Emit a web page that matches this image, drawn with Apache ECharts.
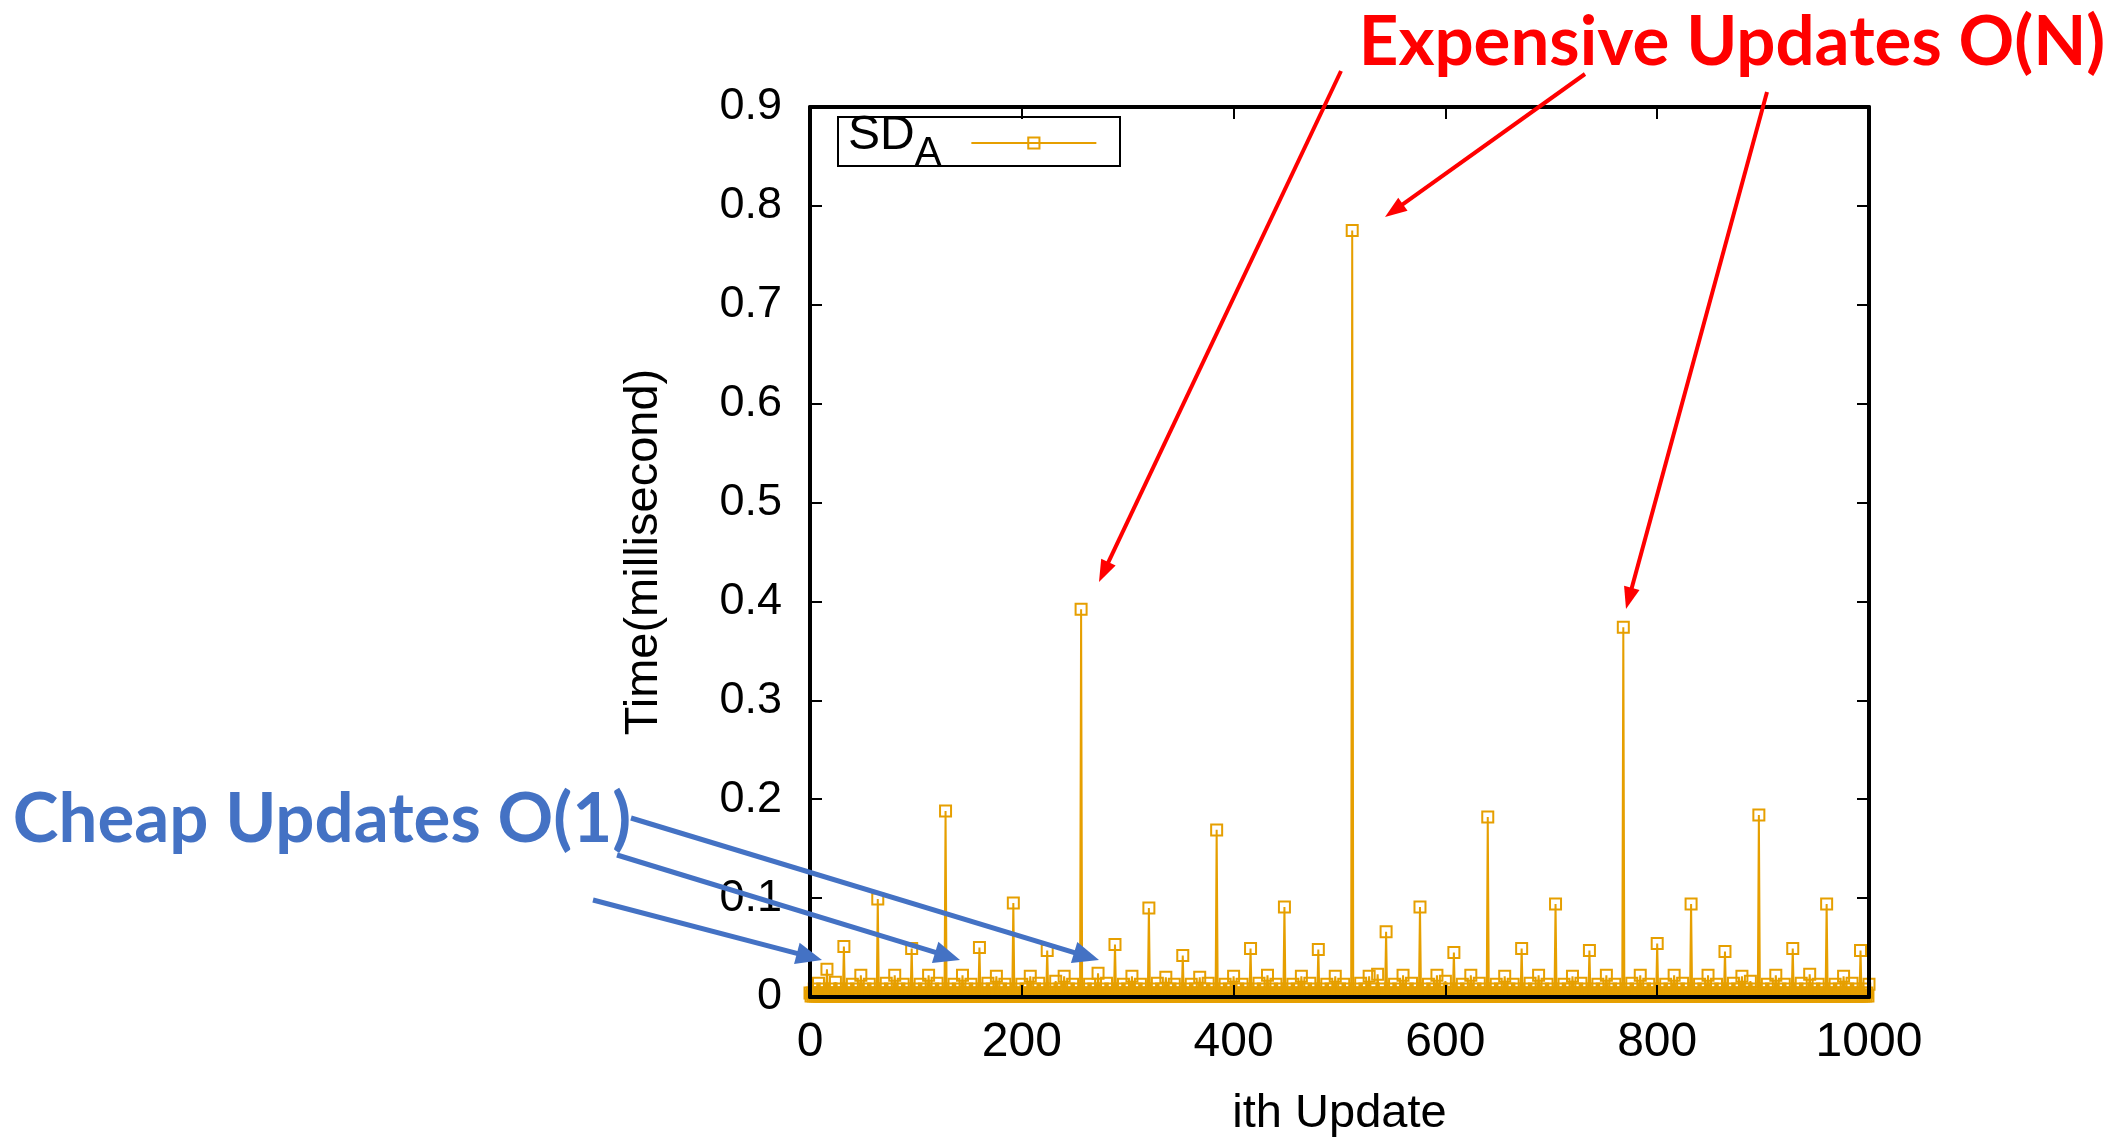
<!DOCTYPE html>
<html>
<head>
<meta charset="utf-8">
<title>SD_A update time</title>
<script src="https://cdn.jsdelivr.net/npm/echarts/dist/echarts.min.js"></script>
<style>
  html, body { margin: 0; padding: 0; background: #fff; }
  #chart { width: 2114px; height: 1144px; }
</style>
</head>
<body>
<div id="chart"></div>
<script>
// time (ms) of the i-th update, i = 0..1000
// one row = 16 updates; first value of each row is the 16k-th update
var updateTime = [
  0.004,0.001,0.004,0.001,0.008,0.001,0.004,0.001,0.014,0.001,0.004,0.001,0.008,0.001,0.004,0.001,
  0.028,0.001,0.004,0.001,0.008,0.001,0.004,0.001,0.015,0.001,0.004,0.001,0.008,0.001,0.004,0.001,
  0.051,0.001,0.004,0.001,0.008,0.001,0.004,0.001,0.013,0.001,0.004,0.001,0.008,0.001,0.004,0.001,
  0.022,0.001,0.004,0.001,0.008,0.001,0.004,0.001,0.013,0.001,0.004,0.001,0.008,0.001,0.004,0.001,
  0.099,0.001,0.004,0.001,0.008,0.001,0.004,0.001,0.014,0.001,0.004,0.001,0.008,0.001,0.004,0.001,
  0.022,0.001,0.004,0.001,0.008,0.001,0.004,0.001,0.013,0.001,0.004,0.001,0.008,0.001,0.004,0.001,
  0.049,0.001,0.004,0.001,0.008,0.001,0.004,0.001,0.013,0.001,0.004,0.001,0.008,0.001,0.004,0.001,
  0.022,0.001,0.004,0.001,0.008,0.001,0.004,0.001,0.014,0.001,0.004,0.001,0.008,0.001,0.004,0.001,
  0.188,0.001,0.004,0.001,0.008,0.001,0.004,0.001,0.013,0.001,0.004,0.001,0.008,0.001,0.004,0.001,
  0.022,0.001,0.004,0.001,0.008,0.001,0.004,0.001,0.013,0.001,0.004,0.001,0.008,0.001,0.004,0.001,
  0.050,0.001,0.004,0.001,0.008,0.001,0.004,0.001,0.014,0.001,0.004,0.001,0.008,0.001,0.004,0.001,
  0.021,0.001,0.004,0.001,0.008,0.001,0.004,0.001,0.013,0.001,0.004,0.001,0.008,0.001,0.004,0.001,
  0.095,0.001,0.004,0.001,0.008,0.001,0.004,0.001,0.013,0.001,0.004,0.001,0.008,0.001,0.004,0.001,
  0.021,0.001,0.004,0.001,0.008,0.001,0.004,0.001,0.014,0.001,0.004,0.001,0.008,0.001,0.004,0.001,
  0.047,0.001,0.004,0.001,0.008,0.001,0.004,0.001,0.016,0.001,0.004,0.001,0.008,0.001,0.004,0.001,
  0.021,0.001,0.004,0.001,0.008,0.001,0.004,0.001,0.013,0.001,0.004,0.001,0.008,0.001,0.004,0.001,
  0.392,0.001,0.004,0.001,0.008,0.001,0.004,0.001,0.013,0.001,0.004,0.001,0.008,0.001,0.004,0.001,
  0.024,0.001,0.004,0.001,0.008,0.001,0.004,0.001,0.014,0.001,0.004,0.001,0.008,0.001,0.004,0.001,
  0.053,0.001,0.004,0.001,0.008,0.001,0.004,0.001,0.013,0.001,0.004,0.001,0.008,0.001,0.004,0.001,
  0.021,0.001,0.004,0.001,0.008,0.001,0.004,0.001,0.013,0.001,0.004,0.001,0.008,0.001,0.004,0.001,
  0.090,0.001,0.004,0.001,0.008,0.001,0.004,0.001,0.014,0.001,0.004,0.001,0.008,0.001,0.004,0.001,
  0.020,0.001,0.004,0.001,0.008,0.001,0.004,0.001,0.013,0.001,0.004,0.001,0.008,0.001,0.004,0.001,
  0.042,0.001,0.004,0.001,0.008,0.001,0.004,0.001,0.013,0.001,0.004,0.001,0.008,0.001,0.004,0.001,
  0.020,0.001,0.004,0.001,0.008,0.001,0.004,0.001,0.014,0.001,0.004,0.001,0.008,0.001,0.004,0.001,
  0.169,0.001,0.004,0.001,0.008,0.001,0.004,0.001,0.013,0.001,0.004,0.001,0.008,0.001,0.004,0.001,
  0.021,0.001,0.004,0.001,0.008,0.001,0.004,0.001,0.013,0.001,0.004,0.001,0.008,0.001,0.004,0.001,
  0.049,0.001,0.004,0.001,0.008,0.001,0.004,0.001,0.014,0.001,0.004,0.001,0.008,0.001,0.004,0.001,
  0.022,0.001,0.004,0.001,0.008,0.001,0.004,0.001,0.013,0.001,0.004,0.001,0.008,0.001,0.004,0.001,
  0.091,0.001,0.004,0.001,0.008,0.001,0.004,0.001,0.013,0.001,0.004,0.001,0.008,0.001,0.004,0.001,
  0.021,0.001,0.004,0.001,0.008,0.001,0.004,0.001,0.014,0.001,0.004,0.001,0.008,0.001,0.004,0.001,
  0.048,0.001,0.004,0.001,0.008,0.001,0.004,0.001,0.013,0.001,0.004,0.001,0.008,0.001,0.004,0.001,
  0.021,0.001,0.004,0.001,0.008,0.001,0.004,0.001,0.013,0.001,0.004,0.001,0.008,0.001,0.004,0.001,
  0.775,0.001,0.004,0.001,0.008,0.001,0.004,0.001,0.014,0.001,0.004,0.001,0.008,0.001,0.004,0.001,
  0.021,0.001,0.004,0.001,0.008,0.001,0.004,0.001,0.023,0.001,0.004,0.001,0.008,0.001,0.004,0.001,
  0.066,0.001,0.004,0.001,0.008,0.001,0.004,0.001,0.013,0.001,0.004,0.001,0.008,0.001,0.004,0.001,
  0.022,0.001,0.004,0.001,0.008,0.001,0.004,0.001,0.014,0.001,0.004,0.001,0.008,0.001,0.004,0.001,
  0.091,0.001,0.004,0.001,0.008,0.001,0.004,0.001,0.013,0.001,0.004,0.001,0.008,0.001,0.004,0.001,
  0.022,0.001,0.004,0.001,0.008,0.001,0.004,0.001,0.016,0.001,0.004,0.001,0.008,0.001,0.004,0.001,
  0.045,0.001,0.004,0.001,0.008,0.001,0.004,0.001,0.013,0.001,0.004,0.001,0.008,0.001,0.004,0.001,
  0.022,0.001,0.004,0.001,0.008,0.001,0.004,0.001,0.014,0.001,0.004,0.001,0.008,0.001,0.004,0.001,
  0.182,0.001,0.004,0.001,0.008,0.001,0.004,0.001,0.013,0.001,0.004,0.001,0.008,0.001,0.004,0.001,
  0.021,0.001,0.004,0.001,0.008,0.001,0.004,0.001,0.013,0.001,0.004,0.001,0.008,0.001,0.004,0.001,
  0.049,0.001,0.004,0.001,0.008,0.001,0.004,0.001,0.014,0.001,0.004,0.001,0.008,0.001,0.004,0.001,
  0.022,0.001,0.004,0.001,0.008,0.001,0.004,0.001,0.013,0.001,0.004,0.001,0.008,0.001,0.004,0.001,
  0.094,0.001,0.004,0.001,0.008,0.001,0.004,0.001,0.013,0.001,0.004,0.001,0.008,0.001,0.004,0.001,
  0.021,0.001,0.004,0.001,0.008,0.001,0.004,0.001,0.014,0.001,0.004,0.001,0.008,0.001,0.004,0.001,
  0.047,0.001,0.004,0.001,0.008,0.001,0.004,0.001,0.013,0.001,0.004,0.001,0.008,0.001,0.004,0.001,
  0.022,0.001,0.004,0.001,0.008,0.001,0.004,0.001,0.013,0.001,0.004,0.001,0.008,0.001,0.004,0.001,
  0.374,0.001,0.004,0.001,0.008,0.001,0.004,0.001,0.014,0.001,0.004,0.001,0.008,0.001,0.004,0.001,
  0.022,0.001,0.004,0.001,0.008,0.001,0.004,0.001,0.013,0.001,0.004,0.001,0.008,0.001,0.004,0.001,
  0.054,0.001,0.004,0.001,0.008,0.001,0.004,0.001,0.013,0.001,0.004,0.001,0.008,0.001,0.004,0.001,
  0.022,0.001,0.004,0.001,0.008,0.001,0.004,0.001,0.014,0.001,0.004,0.001,0.008,0.001,0.004,0.001,
  0.094,0.001,0.004,0.001,0.008,0.001,0.004,0.001,0.013,0.001,0.004,0.001,0.008,0.001,0.004,0.001,
  0.022,0.001,0.004,0.001,0.008,0.001,0.004,0.001,0.013,0.001,0.004,0.001,0.008,0.001,0.004,0.001,
  0.046,0.001,0.004,0.001,0.008,0.001,0.004,0.001,0.014,0.001,0.004,0.001,0.008,0.001,0.004,0.001,
  0.021,0.001,0.004,0.001,0.008,0.001,0.004,0.001,0.016,0.001,0.004,0.001,0.008,0.001,0.004,0.001,
  0.184,0.001,0.004,0.001,0.008,0.001,0.004,0.001,0.013,0.001,0.004,0.001,0.008,0.001,0.004,0.001,
  0.022,0.001,0.004,0.001,0.008,0.001,0.004,0.001,0.013,0.001,0.004,0.001,0.008,0.001,0.004,0.001,
  0.049,0.001,0.004,0.001,0.008,0.001,0.004,0.001,0.014,0.001,0.004,0.001,0.008,0.001,0.004,0.001,
  0.023,0.001,0.004,0.001,0.008,0.001,0.004,0.001,0.013,0.001,0.004,0.001,0.008,0.001,0.004,0.001,
  0.094,0.001,0.004,0.001,0.008,0.001,0.004,0.001,0.013,0.001,0.004,0.001,0.008,0.001,0.004,0.001,
  0.021,0.001,0.004,0.001,0.008,0.001,0.004,0.001,0.014,0.001,0.004,0.001,0.008,0.001,0.004,0.001,
  0.047,0.001,0.004,0.001,0.008,0.001,0.004,0.001,0.013
];

var xTicks = { min: 0, max: 1000, step: 200 };
var yTicks = { min: 0, max: 0.9, step: 0.1 };

var seriesName = 'SD_A';
var xTitle = 'ith Update';
var yTitle = 'Time(millisecond)';
var redNote = 'Expensive Updates O(N)';
var blueNote = 'Cheap Updates O(1)';

// annotation arrows, pixel coords [x1, y1, x2(tip), y2(tip)]
var redArrows = [
  [1341, 71, 1099, 582],
  [1585, 74, 1385, 217],
  [1767, 92, 1626, 609]
];
var blueArrows = [
  [631, 818, 1099, 960],
  [617, 855, 960, 960],
  [593, 900, 822, 960]
];

var ORANGE = '#E69F00';
var FONT = 'Liberation Sans, Arial, sans-serif';

var chart = echarts.init(document.getElementById('chart'));

function arrow(a, color, w, headLen, headW) {
  var x1 = a[0], y1 = a[1], x2 = a[2], y2 = a[3];
  var dx = x2 - x1, dy = y2 - y1;
  var len = Math.sqrt(dx * dx + dy * dy);
  var ux = dx / len, uy = dy / len;
  var bx = x2 - ux * headLen, by = y2 - uy * headLen;
  return [
    { type: 'line', z: 50, silent: true,
      shape: { x1: x1, y1: y1, x2: bx + ux * 2, y2: by + uy * 2 },
      style: { stroke: color, lineWidth: w } },
    { type: 'polygon', z: 50, silent: true,
      shape: { points: [[x2, y2], [bx - uy * headW / 2, by + ux * headW / 2], [bx + uy * headW / 2, by - ux * headW / 2]] },
      style: { fill: color } }
  ];
}

var graphics = [
  // legend frame
  { type: 'rect', z: 40, silent: true,
    shape: { x: 838, y: 117, width: 282, height: 49 },
    style: { fill: 'none', stroke: '#000', lineWidth: 2 } },
  { type: 'text', z: 50, silent: true, x: 1732, y: 43,
    style: { text: redNote, fill: '#FF0000', font: 'bold 69px Lato, sans-serif', align: 'center', verticalAlign: 'middle' } },
  { type: 'text', z: 50, silent: true, x: 322, y: 820,
    style: { text: blueNote, fill: '#4472C4', font: 'bold 69px Lato, sans-serif', align: 'center', verticalAlign: 'middle' } }
];
redArrows.forEach(function (a) { graphics = graphics.concat(arrow(a, '#FF0000', 4, 22, 16)); });
blueArrows.forEach(function (a) { graphics = graphics.concat(arrow(a, '#4472C4', 5, 26, 22)); });

function frameAxis(pos, t, extra) {
  var o = {
    type: 'value', position: pos, min: t.min, max: t.max, interval: t.step, z: 5,
    axisLine: { show: true, onZero: false, lineStyle: { color: '#000', width: 4 } },
    axisTick: { show: true, inside: true, length: 12, lineStyle: { color: '#000', width: 2 } },
    axisLabel: { show: false },
    splitLine: { show: false }
  };
  for (var k in extra) o[k] = extra[k];
  return o;
}

var option = {
  animation: false,
  backgroundColor: '#fff',
  grid: { left: 810, right: 245, top: 107, bottom: 147 },
  legend: {
    data: [seriesName],
    left: 848, top: 112, padding: 0,
    align: 'right', itemWidth: 125, itemHeight: 14,
    formatter: function () { return '{a|SD}{b|A}{c|}'; },
    textStyle: {
      color: '#000', fontFamily: FONT,
      rich: {
        a: { fontSize: 48, fontFamily: FONT, color: '#000', lineHeight: 62, verticalAlign: 'top' },
        b: { fontSize: 40, fontFamily: FONT, color: '#000', lineHeight: 34, verticalAlign: 'bottom' },
        c: { width: 25, lineHeight: 62 }
      }
    }
  },
  xAxis: [
    frameAxis('bottom', xTicks, {
      name: xTitle, nameLocation: 'middle', nameGap: 94,
      nameTextStyle: { fontSize: 47, color: '#000', fontFamily: FONT },
      axisLabel: { show: true, fontSize: 48, color: '#000', margin: 22, fontFamily: FONT,
                   formatter: function (v) { return String(v); } }
    }),
    frameAxis('top', xTicks, {})
  ],
  yAxis: [
    frameAxis('left', yTicks, {
      name: yTitle, nameLocation: 'middle', nameGap: 142,
      nameTextStyle: { fontSize: 47, color: '#000', fontFamily: FONT },
      axisLabel: { show: true, fontSize: 45, color: '#000', margin: 28, fontFamily: FONT }
    }),
    frameAxis('right', yTicks, {})
  ],
  series: [{
    name: seriesName,
    type: 'line',
    xAxisIndex: 0, yAxisIndex: 0,
    data: updateTime.map(function (v, i) { return [i, v]; }),
    symbol: 'rect', symbolSize: 11,
    showSymbol: true, showAllSymbol: true,
    lineStyle: { color: ORANGE, width: 2 },
    itemStyle: { color: 'rgba(0,0,0,0)', borderColor: ORANGE, borderWidth: 2 },
    silent: true
  }],
  graphic: graphics
};

chart.setOption(option);
</script>
</body>
</html>
